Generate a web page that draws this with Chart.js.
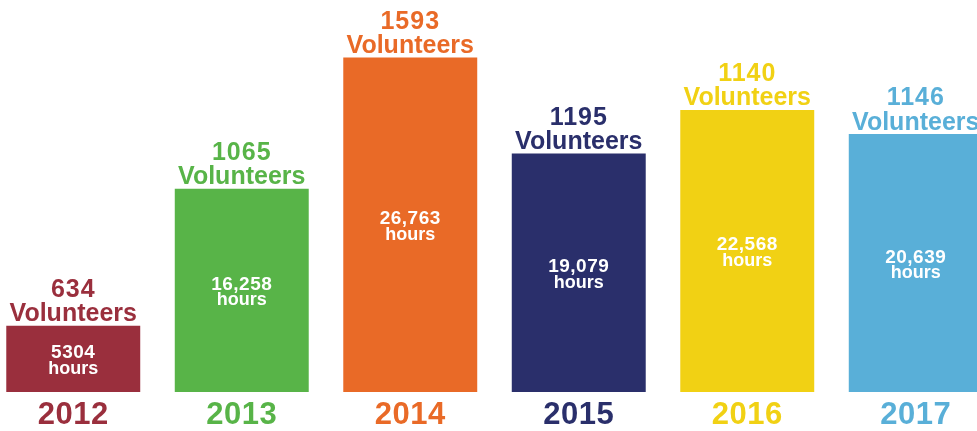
<!DOCTYPE html>
<html>
<head>
<meta charset="utf-8">
<script src="https://cdn.jsdelivr.net/npm/chart.js@4.4.1/dist/chart.umd.min.js"></script>
<style>
  html, body { margin: 0; padding: 0; background: #fff; overflow: hidden; }
  body { width: 977px; height: 431px; position: relative; }
  /* chart is a bit wider than the window: last bar runs off the right edge */
  #wrap { position: absolute; left: -11px; top: 0; width: 1011px; height: 431px; }
</style>
</head>
<body>
<div id="wrap"><canvas id="chart"></canvas></div>
<script>
const years = ['2012', '2013', '2014', '2015', '2016', '2017'];
const hours = [5304, 16258, 26763, 19079, 22568, 20639];
const hoursLabels = ['5304', '16,258', '26,763', '19,079', '22,568', '20,639'];
const volunteers = [634, 1065, 1593, 1195, 1140, 1146];
const colors = ['#9a2f3d', '#58b448', '#e96a27', '#2a2f6b', '#f1d114', '#59afd8'];

const FONT = '"Liberation Sans", Arial, sans-serif';

// draws the volunteer counts, hours and year around each bar
const barLabels = {
  id: 'barLabels',
  afterDatasetsDraw(chart) {
    const ctx = chart.ctx;
    const meta = chart.getDatasetMeta(0);
    ctx.save();
    ctx.textAlign = 'center';
    ctx.textBaseline = 'alphabetic';
    meta.data.forEach((bar, i) => {
      const x = bar.x;
      const top = bar.y;
      const base = bar.base;
      const mid = (top + base) / 2;

      ctx.fillStyle = colors[i];
      ctx.letterSpacing = '1px';
      ctx.font = 'bold 25px ' + FONT;
      ctx.fillText(String(volunteers[i]), x, top - 28.7);
      ctx.letterSpacing = '0px';
      ctx.fillText('Volunteers', x, top - 4.5);

      ctx.letterSpacing = '0.5px';
      ctx.font = 'bold 31px ' + FONT;
      ctx.fillText(years[i], x, base + 32);

      ctx.fillStyle = '#ffffff';
      ctx.font = 'bold 19px ' + FONT;
      ctx.fillText(hoursLabels[i], x, mid - 0.5);
      ctx.letterSpacing = '0px';
      ctx.font = 'bold 18px ' + FONT;
      ctx.fillText('hours', x, mid + 15);
    });
    ctx.restore();
  }
};

new Chart(document.getElementById('chart'), {
  type: 'bar',
  data: {
    labels: years,
    datasets: [{
      data: hours,
      backgroundColor: colors,
      borderWidth: 0,
      barPercentage: 0.795,
      categoryPercentage: 1
    }]
  },
  options: {
    responsive: true,
    maintainAspectRatio: false,
    animation: false,
    layout: { padding: { top: 17, bottom: 39, left: 0, right: 0 } },
    plugins: { legend: { display: false }, tooltip: { enabled: false } },
    scales: {
      x: { display: false },
      y: { display: false, min: 0, max: 30000 }
    }
  },
  plugins: [barLabels]
});
</script>
</body>
</html>
